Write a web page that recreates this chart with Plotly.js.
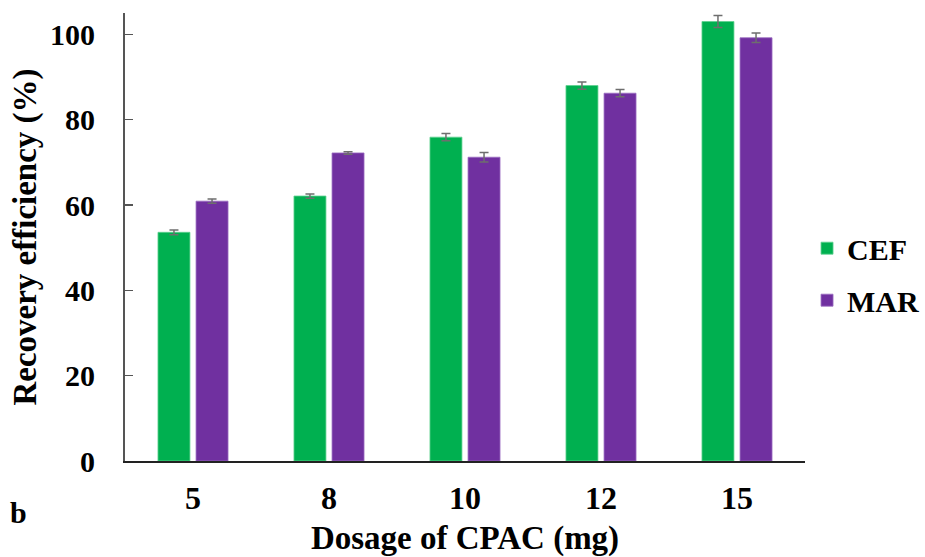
<!DOCTYPE html>
<html><head><meta charset="utf-8">
<script src="https://cdn.plot.ly/plotly-3.0.1.min.js"></script>
<style>html,body{margin:0;padding:0;background:#fff}#chart{width:925px;height:557px}</style>
</head><body><div id="chart"></div>
<script>
const categories = ["5", "8", "10", "12", "15"];
const cefValues = [53.6, 62.1, 75.9, 88.0, 103.0];
const cefErrors = [0.55, 0.5, 0.85, 0.85, 1.4];
const marValues = [60.9, 72.2, 71.2, 86.2, 99.2];
const marErrors = [0.5, 0.3, 1.1, 0.85, 1.1];
const yTicks = [0, 20, 40, 60, 80, 100];

const fontFam = '"Liberation Serif", "Times New Roman", serif';
const errStyle = {type: 'data', visible: true, color: '#6e6e6e', thickness: 1.5, width: 4.5};

const traces = [
  {type: 'bar', name: 'CEF', x: categories, y: cefValues, legendgroup: 'a',
   error_y: Object.assign({array: cefErrors}, errStyle),
   marker: {color: '#00B050', line: {color: '#5fd08f', width: 0.8}}},
  {type: 'bar', name: 'MAR', x: categories, y: marValues, legendgroup: 'b',
   error_y: Object.assign({array: marErrors}, errStyle),
   marker: {color: '#7030A0', line: {color: '#9a6cc0', width: 0.8}}}
];

const layout = {
  width: 925, height: 557,
  margin: {l: 125, r: 120, t: 13, b: 96, autoexpand: false},
  paper_bgcolor: '#fff', plot_bgcolor: '#fff',
  barmode: 'group', bargap: 0.44, bargroupgap: 0.16,
  font: {family: fontFam, color: '#000'},
  showlegend: true,
  legend: {x: 1.003, y: 0.417, xanchor: 'left', yanchor: 'middle',
    font: {family: fontFam, size: 30, color: '#000', weight: 'bold'},
    tracegroupgap: 10, itemwidth: 30, borderwidth: 0},
  xaxis: {type: 'category', range: [-0.5, 4.5], showline: true, linecolor: '#222', linewidth: 2,
    ticks: '', showgrid: false, zeroline: false,
    tickfont: {family: fontFam, size: 32, color: '#000', weight: 'bold'},
    ticklabelstandoff: 8,
    title: {text: 'Dosage of CPAC (mg)', font: {family: fontFam, size: 33, color: '#000', weight: 'bold'}, standoff: 10}},
  yaxis: {range: [0, 105], tickvals: yTicks, ticktext: yTicks.map(String),
    showline: true, linecolor: '#555', linewidth: 2, ticks: 'inside', ticklen: 8, tickcolor: '#555', tickwidth: 1.5,
    showgrid: false, zeroline: false,
    tickfont: {family: fontFam, size: 30, color: '#000', weight: 'bold'},
    ticklabelstandoff: 22,
    title: {text: 'Recovery efficiency (%)', font: {family: fontFam, size: 33, color: '#000', weight: 'bold'}, standoff: 3}},
  annotations: [{text: 'b', xref: 'paper', yref: 'paper', x: -0.172, y: -0.116, xanchor: 'left', yanchor: 'middle',
    showarrow: false, font: {family: fontFam, size: 30, color: '#000', weight: 'bold'}}]
};

Plotly.newPlot('chart', traces, layout, {displayModeBar: false, staticPlot: true});
</script></body></html>
